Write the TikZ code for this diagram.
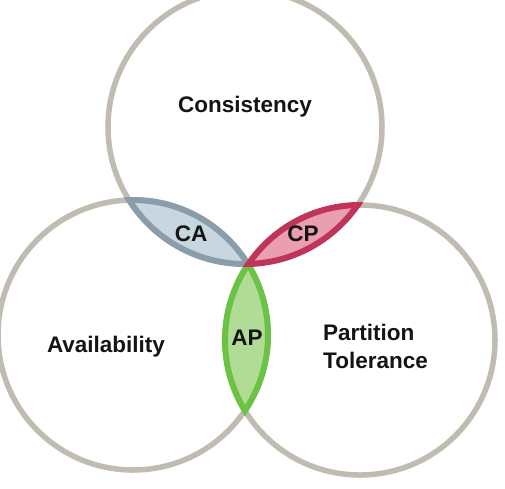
\documentclass[tikz,border=0pt]{standalone}
\usepackage{fontspec}
\setmainfont{Liberation Sans}
\definecolor{ring}{RGB}{192,188,178}
\definecolor{cafill}{RGB}{200,214,223}
\definecolor{caline}{RGB}{138,157,170}
\definecolor{cpfill}{RGB}{234,158,178}
\definecolor{cpline}{RGB}{192,52,90}
\definecolor{apfill}{RGB}{176,220,150}
\definecolor{apline}{RGB}{108,194,68}
\newcommand\mylens[5]{%
  \begin{scope}\clip (#1) circle ({#2pt}); \fill[#5fill] (#3) circle ({#4pt}); \end{scope}
  \begin{scope}\clip (#1) circle ({#2pt+3pt}); \draw[#5line, line width=6pt] (#3) circle ({#4pt}); \end{scope}
  \begin{scope}\clip (#3) circle ({#4pt+3pt}); \draw[#5line, line width=6pt] (#1) circle ({#2pt}); \end{scope}}
\begin{document}
\begin{tikzpicture}[x=1pt,y=-1pt,
  lbl/.style={font=\bfseries\fontsize{22.5}{28}\selectfont, text=black!92, inner sep=0pt}]
\useasboundingbox (0,0) rectangle (505,488);
\fill[white] (0,0) rectangle (505,488);
\coordinate (C) at (245,127);
\coordinate (A) at (133,335);
\coordinate (P) at (360,340);
\draw[ring, line width=5.5pt] (C) circle (137pt) (A) circle (135pt) (P) circle (135pt);
\mylens{C}{137}{A}{135}{ca}
\mylens{A}{135}{P}{135}{ap}
\mylens{C}{137}{P}{135}{cp}
\node[lbl] (tC) at (245,107) {Consistency};
\node[lbl] (tA) at (106,347) {Availability};
\node[lbl] (tCA) at (191,234) {CA};
\node[lbl] (tCP) at (303,234) {CP};
\node[lbl] (tAP) at (247,338) {AP};
\node[lbl, align=left] (tPT) at (375.5,346) {Partition\\Tolerance};
\end{tikzpicture}
\end{document}
